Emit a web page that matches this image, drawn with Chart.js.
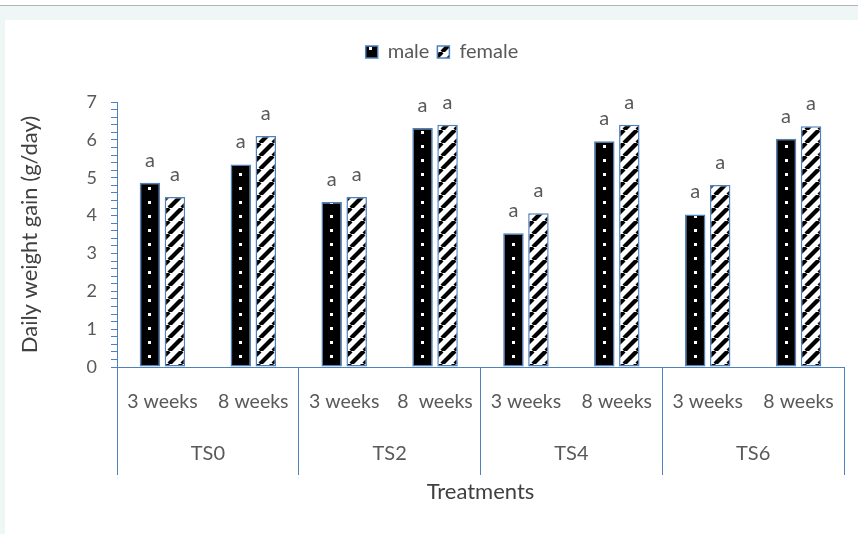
<!DOCTYPE html>
<html>
<head>
<meta charset="utf-8">
<script src="https://cdn.jsdelivr.net/npm/chart.js@4/dist/chart.umd.min.js"></script>
<style>
  html, body { margin: 0; padding: 0; background: #ffffff; }
  body { width: 858px; height: 534px; position: relative; overflow: hidden; }
  #topline { position: absolute; left: 0; top: 5px; width: 858px; height: 1px; background: #b4b4b4; }
  #band { position: absolute; left: 0; top: 6px; width: 858px; height: 14px; background: #eef7f5; }
  #strip { position: absolute; left: 0; top: 20px; width: 5px; height: 514px; background: #eef7f5; }
  #wrap { position: absolute; left: 0; top: 0; width: 858px; height: 534px; }
</style>
</head>
<body>
<div id="topline"></div>
<div id="band"></div>
<div id="strip"></div>
<div id="wrap"><canvas id="c" width="858" height="534"></canvas></div>
<script>
// ---- data ----
const categories = ['3 weeks', '8 weeks', '3 weeks', '8  weeks', '3 weeks', '8 weeks', '3 weeks', '8 weeks'];
const groups = ['TS0', 'TS2', 'TS4', 'TS6'];
const maleValues = [4.87, 5.35, 4.36, 6.31, 3.53, 5.96, 4.03, 6.03];
const femaleValues = [4.49, 6.10, 4.49, 6.40, 4.06, 6.40, 4.81, 6.36];
const maleLetters = ['a', 'a', 'a', 'a', 'a', 'a', 'a', 'a'];
const femaleLetters = ['a', 'a', 'a', 'a', 'a', 'a', 'a', 'a'];
const seriesNames = ['male', 'female'];
const yTitle = 'Daily weight gain (g/day)';
const xTitle = 'Treatments';

// ---- styles ----
const BLUE = '#4F81BD';
const TXT = '#595959';
const TITLE = '#404040';
const FONT = 'Lato, "Open Sans", sans-serif';

function dotPattern() {
  const c = document.createElement('canvas');
  c.width = 13; c.height = 14;
  const g = c.getContext('2d');
  g.fillStyle = '#000'; g.fillRect(0, 0, 13, 14);
  g.fillStyle = '#fff'; g.fillRect(5, 5, 3, 3);
  return g.createPattern(c, 'repeat');
}
function stripePattern() {
  const T = 13;
  const c = document.createElement('canvas');
  c.width = T; c.height = T;
  const g = c.getContext('2d');
  g.fillStyle = '#fff'; g.fillRect(0, 0, T, T);
  g.strokeStyle = '#000'; g.lineWidth = 4.3;
  for (const k of [-T, 0, T]) {
    g.beginPath(); g.moveTo(k, T); g.lineTo(k + T, 0); g.stroke();
  }
  return g.createPattern(c, 'repeat');
}

const letterPlugin = {
  id: 'letters',
  afterDatasetsDraw(chart) {
    const ctx = chart.ctx;
    const letterSets = [maleLetters, femaleLetters];
    ctx.save();
    ctx.font = '20px ' + FONT;
    ctx.fillStyle = TXT;
    ctx.textAlign = 'center';
    ctx.textBaseline = 'alphabetic';
    chart.data.datasets.forEach((ds, di) => {
      const meta = chart.getDatasetMeta(di);
      meta.data.forEach((bar, i) => {
        ctx.fillText(letterSets[di][i], bar.x, bar.y - 16);
      });
    });
    ctx.restore();
  }
};

const legendHeightPlugin = {
  id: 'legendHeight',
  beforeLayout(chart) {
    const lg = chart.legend;
    if (lg && !lg._fixedH) {
      const origFit = lg.fit;
      lg.fit = function () { origFit.call(this); this.height = 68; };
      lg._fixedH = true;
    }
  }
};

Chart.defaults.font.family = FONT;

new Chart(document.getElementById('c'), {
  type: 'bar',
  data: {
    labels: categories,
    datasets: [
      { label: seriesNames[0], data: maleValues, backgroundColor: dotPattern(), borderColor: BLUE, borderWidth: 1.5, borderSkipped: false,
        categoryPercentage: 0.55, barPercentage: 0.82 },
      { label: seriesNames[1], data: femaleValues, backgroundColor: stripePattern(), borderColor: BLUE, borderWidth: 1.5, borderSkipped: false,
        categoryPercentage: 0.55, barPercentage: 0.82 }
    ]
  },
  plugins: [letterPlugin, legendHeightPlugin],
  options: {
    responsive: false,
    devicePixelRatio: 1,
    animation: false,
    layout: { padding: { left: 40, right: 14, top: 34, bottom: 0 } },
    plugins: {
      legend: {
        position: 'top',
        labels: { color: TXT, font: { size: 20 }, boxWidth: 12, boxHeight: 12, padding: 8, useBorderRadius: false }
      },
      tooltip: { enabled: false }
    },
    scales: {
      x: {
        type: 'category',
        position: 'bottom',
        offset: true,
        grid: {
          offset: true,
          drawOnChartArea: false,
          drawTicks: true,
          tickLength: 108,
          color: (ctx) => (ctx.type === 'tick' && ctx.index % 2 !== 0 ? 'rgba(0,0,0,0)' : BLUE),
          lineWidth: 1
        },
        border: { display: true, color: BLUE, width: 1 },
        ticks: { color: TXT, font: { size: 19.5 }, padding: -85, autoSkip: false, maxRotation: 0 },
        afterFit: (s) => { s.height = 74; }
      },
      x2: {
        type: 'category',
        position: 'bottom',
        labels: groups,
        offset: true,
        grid: { display: false, drawTicks: false },
        border: { display: false },
        ticks: { color: TXT, font: { size: 20 }, padding: 1, autoSkip: false, maxRotation: 0 },
        title: { display: true, text: xTitle, color: TITLE, font: { size: 22 }, padding: { top: 0, bottom: 29 } },
        afterFit: (s) => { s.height = 93; }
      },
      y: {
        min: 0,
        max: 7,
        ticks: {
          stepSize: 0.2,
          autoSkip: false,
          color: TXT,
          font: { size: 18 },
          padding: 14,
          callback: (v) => (Math.abs(v - Math.round(v)) < 1e-6 ? String(Math.round(v)) : '')
        },
        grid: { drawOnChartArea: false, drawTicks: true, tickLength: 6, color: BLUE, lineWidth: 1 },
        border: { display: true, color: BLUE, width: 1 },
        title: { display: true, text: yTitle, color: TITLE, font: { size: 22 }, padding: { top: -23, bottom: 0 } },
        afterFit: (s) => { s.width = 77; }
      }
    }
  }
});
</script>
</body>
</html>
